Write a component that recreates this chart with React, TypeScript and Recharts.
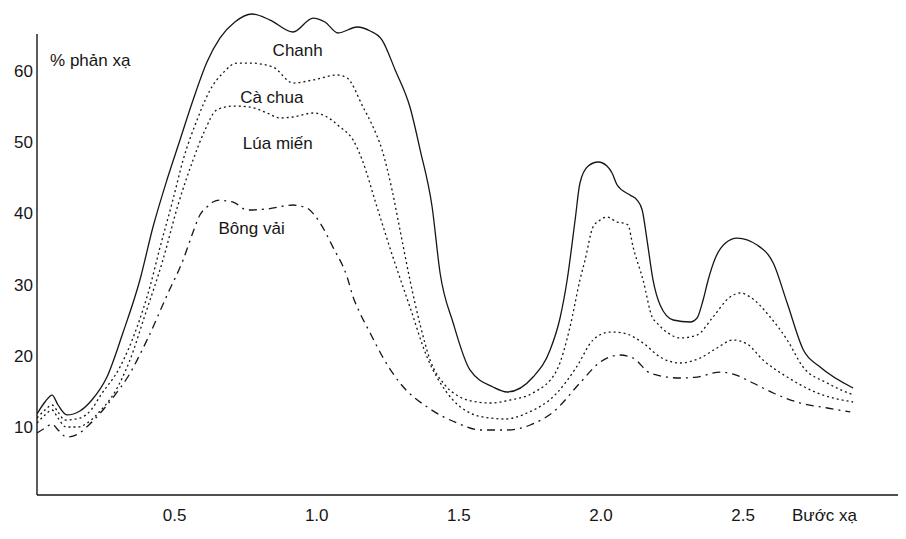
import React from 'react';
import { LineChart, Line, XAxis, YAxis, ReferenceDot, ReferenceLine } from 'recharts';

// Wavelength (µm) and reflectance (%)
const chanhX = [0.016,0.044,0.069,0.090,0.121,0.167,0.209,0.262,0.318,0.378,0.424,0.473,0.519,0.565,0.614,0.660,0.712,0.772,0.836,0.917,0.987,1.029,1.075,1.142,1.188,1.230,1.276,1.328,1.364,1.406,1.434,1.480,1.539,1.620,1.670,1.761,1.821,1.856,1.881,1.909,1.926,1.955,1.990,2.021,2.039,2.057,2.102,2.127,2.145,2.162,2.183,2.208,2.254,2.314,2.338,2.359,2.377,2.402,2.437,2.479,2.549,2.606,2.655,2.712,2.771,2.887];
const chanhY = [11.83,13.51,14.49,13.09,11.69,12.25,13.79,17.02,23.20,30.65,38.09,44.69,50.31,55.93,61.26,64.64,66.88,68.01,67.16,65.48,67.44,66.88,65.34,66.18,65.62,64.35,60.14,54.94,48.90,40.90,31.63,24.61,18.01,15.62,14.92,17.02,20.81,25.31,30.65,39.07,44.27,46.66,47.22,46.66,45.67,43.99,42.58,41.88,40.48,36.26,30.65,27.13,25.03,24.75,25.31,27.80,30.65,33.70,35.80,36.54,35.56,33.03,27.41,20.81,18.43,15.48];

const caChuaX = [0.016,0.044,0.069,0.090,0.114,0.167,0.209,0.238,0.308,0.368,0.413,0.449,0.494,0.530,0.579,0.625,0.670,0.719,0.765,0.846,0.917,0.987,1.072,1.107,1.163,1.195,1.230,1.265,1.293,1.328,1.364,1.399,1.451,1.504,1.564,1.610,1.680,1.761,1.845,1.891,1.926,1.944,1.972,1.997,2.021,2.057,2.078,2.095,2.113,2.148,2.180,2.197,2.236,2.278,2.338,2.394,2.454,2.490,2.525,2.595,2.655,2.711,2.796,2.888];
const caChuaY = [11.26,12.39,13.09,12.11,10.98,11.26,12.53,14.35,18.43,24.04,29.66,35.27,41.88,47.50,53.12,57.33,59.72,61.12,61.12,60.56,58.31,58.74,59.44,59.02,54.94,52.42,48.90,43.29,37.67,30.65,24.33,19.41,15.90,14.21,13.51,13.37,13.79,14.78,18.01,24.04,30.65,33.46,38.09,39.07,39.49,38.79,38.65,38.37,35.27,30.65,25.45,24.61,23.20,22.50,22.92,25.45,28.26,28.82,28.26,25.45,22.22,18.43,16.18,14.49];

const luaMienX = [0.016,0.044,0.069,0.090,0.118,0.160,0.202,0.238,0.290,0.343,0.396,0.459,0.512,0.565,0.607,0.648,0.706,0.765,0.825,0.871,0.917,0.987,1.022,1.082,1.128,1.160,1.212,1.268,1.328,1.388,1.459,1.539,1.610,1.663,1.740,1.845,1.914,1.972,2.032,2.078,2.148,2.208,2.278,2.349,2.408,2.465,2.514,2.570,2.655,2.761,2.887];
const luaMienY = [10.56,11.69,12.39,11.26,10.0,10.0,10.84,12.25,14.92,19.41,25.73,33.46,41.18,47.50,51.71,54.52,55.08,54.94,54.10,53.40,53.54,54.10,53.82,52.13,50.31,47.50,40.90,33.88,26.85,19.83,14.78,11.97,11.26,11.12,11.97,14.78,18.43,22.22,23.34,23.20,21.80,19.83,18.99,19.69,21.10,22.22,21.66,19.41,17.02,14.78,13.51];

const bongVaiX = [0.016,0.044,0.069,0.090,0.121,0.160,0.202,0.248,0.290,0.333,0.403,0.477,0.530,0.565,0.589,0.614,0.635,0.660,0.684,0.706,0.755,0.825,0.917,0.941,0.966,1.012,1.057,1.107,1.128,1.152,1.188,1.234,1.293,1.399,1.494,1.575,1.670,1.751,1.832,1.926,1.997,2.067,2.113,2.173,2.278,2.338,2.419,2.465,2.535,2.606,2.701,2.796,2.877];
const bongVaiY = [9.16,9.86,10.42,9.58,8.60,9.02,10.42,12.39,14.49,16.88,22.22,28.82,33.46,37.39,39.78,40.90,41.60,41.88,41.74,41.60,40.48,40.62,41.18,41.04,40.76,38.65,35.27,31.07,28.26,26.01,23.20,19.69,16.18,12.53,10.56,9.58,9.58,10.28,12.11,16.18,19.13,20.11,19.69,17.58,16.88,17.02,17.72,17.44,16.18,14.78,13.37,12.67,12.11];

const xTicks = [0.5, 1.0, 1.5, 2.0, 2.5];
const yTicks = [10, 20, 30, 40, 50, 60];

const zip = (xs: number[], ys: number[]) => xs.map((x, i) => ({ x, y: ys[i] }));

const FONT = '"Liberation Sans", Arial, Helvetica, sans-serif';
const INK = '#161616';
const X_MIN = 0.016;
const Y_MIN = 0.45;
const Y_AXIS_TOP = 65.2;

const labelStyle = (value: string, position: any = 'center') => ({
  value,
  position,
  offset: 0,
  fill: INK,
  fontSize: 17,
  fontFamily: FONT,
});

export default function App() {
  return (
    <div style={{ width: 898, height: 523, background: '#fff' }}>
      <LineChart width={898} height={523} margin={{ top: 0, right: 0, bottom: 0, left: 0 }}>
        <XAxis
          type="number"
          dataKey="x"
          domain={[X_MIN, 3.073]}
          ticks={xTicks}
          tickFormatter={(v: number) => v.toFixed(1)}
          allowDataOverflow
          height={36}
          tickSize={0}
          tickMargin={14}
          axisLine={{ stroke: INK, strokeWidth: 1.4 }}
          tick={{ fill: INK, fontSize: 17, fontFamily: FONT }}
        />
        <YAxis
          type="number"
          domain={[Y_MIN, 68.85]}
          ticks={yTicks}
          allowDataOverflow
          width={29}
          tickSize={0}
          tickMargin={4}
          axisLine={false}
          tick={{ fill: INK, fontSize: 17, fontFamily: FONT }}
        />
        <ReferenceLine
          segment={[{ x: X_MIN, y: Y_MIN }, { x: X_MIN, y: Y_AXIS_TOP }]}
          stroke={INK}
          strokeWidth={1.4}
          ifOverflow="visible"
        />
        <Line data={zip(chanhX, chanhY)} dataKey="y" type="monotone" stroke={INK} strokeWidth={1.3} dot={false} activeDot={false} isAnimationActive={false} />
        <Line data={zip(caChuaX, caChuaY)} dataKey="y" type="monotone" stroke={INK} strokeWidth={1.3} strokeDasharray="2 3" dot={false} activeDot={false} isAnimationActive={false} />
        <Line data={zip(luaMienX, luaMienY)} dataKey="y" type="monotone" stroke={INK} strokeWidth={1.3} strokeDasharray="2 3" dot={false} activeDot={false} isAnimationActive={false} />
        <Line data={zip(bongVaiX, bongVaiY)} dataKey="y" type="monotone" stroke={INK} strokeWidth={1.3} strokeDasharray="8 5 2 5" dot={false} activeDot={false} isAnimationActive={false} />
        <ReferenceDot x={0.933} y={63.0} r={0} ifOverflow="visible" label={labelStyle('Chanh')} />
        <ReferenceDot x={0.842} y={56.4} r={0} ifOverflow="visible" label={labelStyle('Cà chua')} />
        <ReferenceDot x={0.863} y={49.9} r={0} ifOverflow="visible" label={labelStyle('Lúa miến')} />
        <ReferenceDot x={0.771} y={38.0} r={0} ifOverflow="visible" label={labelStyle('Bông vải')} />
        <ReferenceDot x={0.062} y={61.5} r={0} ifOverflow="visible" label={labelStyle('% phản xạ', 'right')} />
        <ReferenceDot x={2.672} y={-2.4} r={0} ifOverflow="visible" label={labelStyle('Bước xạ', 'right')} />
      </LineChart>
    </div>
  );
}
